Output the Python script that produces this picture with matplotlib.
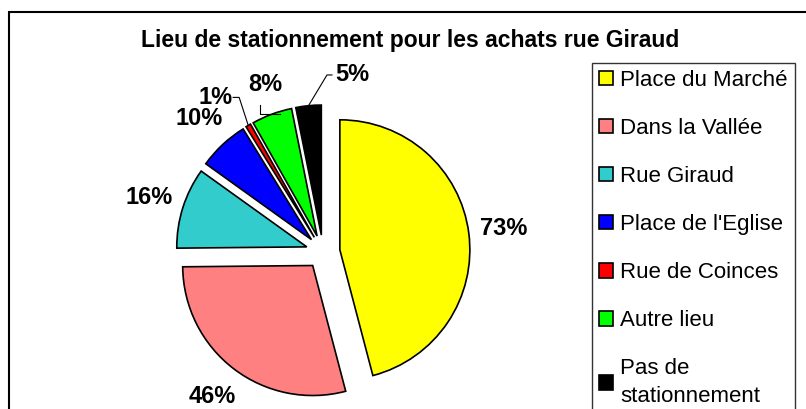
import numpy as np
import matplotlib.pyplot as plt
from matplotlib.patches import Rectangle

plt.rcParams.update({'font.family': ['Liberation Sans', 'DejaVu Sans']})

# Données (réponses multiples, le total dépasse 100 %)
lieux = ['Place du Marché', 'Dans la Vallée', 'Rue Giraud', "Place de l'Eglise",
         'Rue de Coinces', 'Autre lieu', 'Pas de\nstationnement']
pourcentages = [73, 46, 16, 10, 1, 8, 5]
couleurs = ['#FFFF00', '#FF8080', '#33CCCC', '#0000FF', '#FF0000', '#00FF00', '#000000']
titre = "Lieu de stationnement pour les achats rue Giraud"

W, H = 806, 409
fig = plt.figure(figsize=(W / 100, H / 100), dpi=100)
ax = fig.add_axes([0, 0, 1, 1])


def yy(y):
    # coordonnées image (y vers le bas) -> coordonnées données
    return H - y


cx, cy, r = 323, 252, 130
ecart = 17  # décalage des parts (unités données)

wedges, _ = ax.pie(pourcentages, colors=couleurs, startangle=90, counterclock=False,
                   explode=[ecart] * len(pourcentages), radius=r, center=(cx, yy(cy)),
                   wedgeprops=dict(edgecolor='black', linewidth=1.2))

ax.set_xlim(0, W)
ax.set_ylim(0, H)
ax.set_aspect('equal')
ax.axis('off')

# étiquettes : la plupart sur le rayon médian, quelques-unes déplacées avec un trait
deplace = {4: (124.9, 1.45), 5: (109.0, 1.36), 6: (80.7, 1.38)}
for i, (w, p) in enumerate(zip(wedges, pourcentages)):
    mid = 0.5 * (w.theta1 + w.theta2)
    ang, dist = deplace.get(i, (mid, 1.40))
    lx = cx + dist * r * np.cos(np.radians(ang))
    ly = cy - dist * r * np.sin(np.radians(ang))
    ax.text(lx, yy(ly), f'{p}%', ha='center', va='center', fontsize=17,
            fontweight='bold')
    if i in deplace:
        ex = cx + (ecart + r) * np.cos(np.radians(mid))
        ey = cy - (ecart + r) * np.sin(np.radians(mid))
        if i == 4:
            pts = [(ex, ey), (lx + 24, ly), (lx + 18, ly)]
        elif i == 5:
            pts = [(ex + 8, ey), (lx - 5, ey), (lx - 5, ly + 20)]
        else:
            pts = [(ex, ey), (lx - 25, ly), (lx - 20, ly)]
        ax.plot([p_[0] for p_ in pts], [yy(p_[1]) for p_ in pts], color='black', lw=0.8)

ax.text(410, yy(40), titre, ha='center', va='center', fontsize=16.5, fontweight='bold')

# cadre du graphique (coupé en bas et à droite)
ax.add_patch(Rectangle((9, -50), 900, yy(12) + 50, fill=False, lw=1.5,
                       edgecolor='black', clip_on=True))

leg = ax.legend(wedges, lieux, loc='upper left',
                bbox_to_anchor=(592 / W, 1 - 63 / H), bbox_transform=fig.transFigure,
                fontsize=16, frameon=True, fancybox=False, edgecolor='black',
                borderpad=0.3, labelspacing=1.22, handlelength=0.63, handleheight=0.63,
                handletextpad=0.35, borderaxespad=0)
leg.get_frame().set_linewidth(1)
leg.get_texts()[-1].set_linespacing(1.4)

fig.savefig('out.png', dpi=100)
